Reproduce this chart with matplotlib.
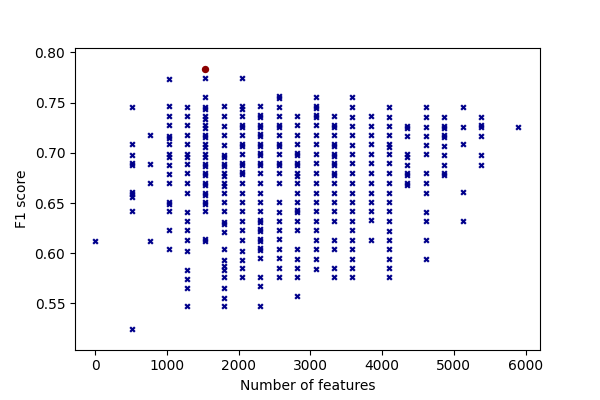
import matplotlib
matplotlib.use("Agg")
import matplotlib.pyplot as plt

features = [0, 512, 768, 1024, 1280, 1536, 1792, 2048, 2304, 2560, 2816,
            3072, 3328, 3584, 3840, 4096, 4352, 4608, 4864, 5120, 5376, 5888]

f1_0 = [0.612]
f1_512 = [0.746, 0.709, 0.698, 0.690, 0.688, 0.661, 0.659, 0.656, 0.642, 0.525]
f1_768 = [0.718, 0.689, 0.670, 0.612]
f1_1024 = [0.774, 0.747, 0.737, 0.728, 0.717, 0.715, 0.709, 0.699, 0.696, 0.688,
           0.679, 0.670, 0.651, 0.649, 0.642, 0.623, 0.604]
f1_1280 = [0.746, 0.737, 0.728, 0.718, 0.709, 0.699, 0.696, 0.689, 0.680, 0.670,
           0.660, 0.641, 0.632, 0.623, 0.613, 0.602, 0.583, 0.574, 0.565, 0.547]
f1_1536 = [0.775, 0.756, 0.746, 0.744, 0.737, 0.734, 0.728, 0.725, 0.718, 0.716,
           0.709, 0.706, 0.699, 0.696, 0.689, 0.687, 0.680, 0.678, 0.670, 0.668,
           0.660, 0.658, 0.651, 0.649, 0.642, 0.614, 0.612]
f1_1792 = [0.747, 0.737, 0.727, 0.718, 0.708, 0.698, 0.696, 0.689, 0.687, 0.680,
           0.677, 0.670, 0.667, 0.660, 0.651, 0.642, 0.631, 0.629, 0.621, 0.604,
           0.593, 0.587, 0.583, 0.576, 0.565, 0.555, 0.547]
f1_2048 = [0.775, 0.747, 0.744, 0.737, 0.728, 0.726, 0.718, 0.709, 0.707, 0.699,
           0.690, 0.688, 0.681, 0.679, 0.670, 0.660, 0.651, 0.642, 0.632, 0.623,
           0.613, 0.602, 0.593, 0.585, 0.576]
f1_2304 = [0.747, 0.738, 0.736, 0.728, 0.726, 0.719, 0.717, 0.709, 0.707, 0.700,
           0.698, 0.690, 0.688, 0.680, 0.670, 0.660, 0.651, 0.642, 0.633, 0.631,
           0.624, 0.622, 0.614, 0.612, 0.605, 0.603, 0.595, 0.576, 0.567, 0.547]
f1_2560 = [0.757, 0.755, 0.746, 0.737, 0.728, 0.726, 0.718, 0.709, 0.707, 0.699,
           0.690, 0.688, 0.680, 0.670, 0.651, 0.641, 0.632, 0.623, 0.614, 0.604,
           0.595, 0.585, 0.576]
f1_2816 = [0.737, 0.728, 0.718, 0.709, 0.700, 0.698, 0.690, 0.688, 0.680, 0.677,
           0.670, 0.660, 0.651, 0.643, 0.641, 0.632, 0.623, 0.604, 0.594, 0.585,
           0.576, 0.557]
f1_3072 = [0.756, 0.747, 0.745, 0.738, 0.736, 0.728, 0.718, 0.709, 0.699, 0.690,
           0.680, 0.670, 0.660, 0.651, 0.642, 0.632, 0.623, 0.613, 0.604, 0.594,
           0.584]
f1_3328 = [0.737, 0.728, 0.726, 0.718, 0.709, 0.707, 0.699, 0.697, 0.690, 0.688,
           0.680, 0.678, 0.670, 0.660, 0.651, 0.642, 0.632, 0.613, 0.604, 0.585,
           0.576]
f1_3584 = [0.756, 0.746, 0.736, 0.727, 0.718, 0.708, 0.699, 0.690, 0.680, 0.670,
           0.660, 0.651, 0.642, 0.632, 0.623, 0.613, 0.604, 0.594, 0.585, 0.576]
f1_3840 = [0.737, 0.727, 0.718, 0.709, 0.699, 0.690, 0.680, 0.670, 0.660, 0.651,
           0.642, 0.633, 0.613]
f1_4096 = [0.746, 0.736, 0.727, 0.718, 0.709, 0.706, 0.699, 0.690, 0.680, 0.670,
           0.660, 0.651, 0.642, 0.632, 0.622, 0.613, 0.604, 0.594, 0.585, 0.576]
f1_4352 = [0.727, 0.725, 0.717, 0.699, 0.696, 0.688, 0.680, 0.678, 0.670, 0.668]
f1_4608 = [0.746, 0.736, 0.726, 0.717, 0.708, 0.699, 0.680, 0.670, 0.660, 0.641,
           0.632, 0.613, 0.594]
f1_4864 = [0.736, 0.727, 0.725, 0.718, 0.716, 0.707, 0.698, 0.688, 0.680, 0.678]
f1_5120 = [0.746, 0.726, 0.709, 0.661, 0.632]
f1_5376 = [0.736, 0.728, 0.726, 0.717, 0.698, 0.688]
f1_5888 = [0.726]

f1_scores = [f1_0, f1_512, f1_768, f1_1024, f1_1280, f1_1536, f1_1792, f1_2048,
             f1_2304, f1_2560, f1_2816, f1_3072, f1_3328, f1_3584, f1_3840,
             f1_4096, f1_4352, f1_4608, f1_4864, f1_5120, f1_5376, f1_5888]

best_features = 1536
best_f1 = 0.783

xs, ys = [], []
for n, col in zip(features, f1_scores):
    xs.extend([n] * len(col))
    ys.extend(col)

fig = plt.figure(figsize=(6, 4), dpi=100)
ax = fig.add_subplot(111)
fig.subplots_adjust(left=0.125, right=0.9, bottom=0.126, top=0.881)

ax.scatter(xs, ys, marker='X', s=20, color='darkblue', linewidths=0)
ax.scatter([best_features], [best_f1], marker='o', s=28, color='darkred', linewidths=0)

ax.set_xlim(-280, 6200)
ax.set_ylim(0.504, 0.8048)
ax.set_xlabel("Number of features")
ax.set_ylabel("F1 score")

fig.savefig("out.png", dpi=100)
